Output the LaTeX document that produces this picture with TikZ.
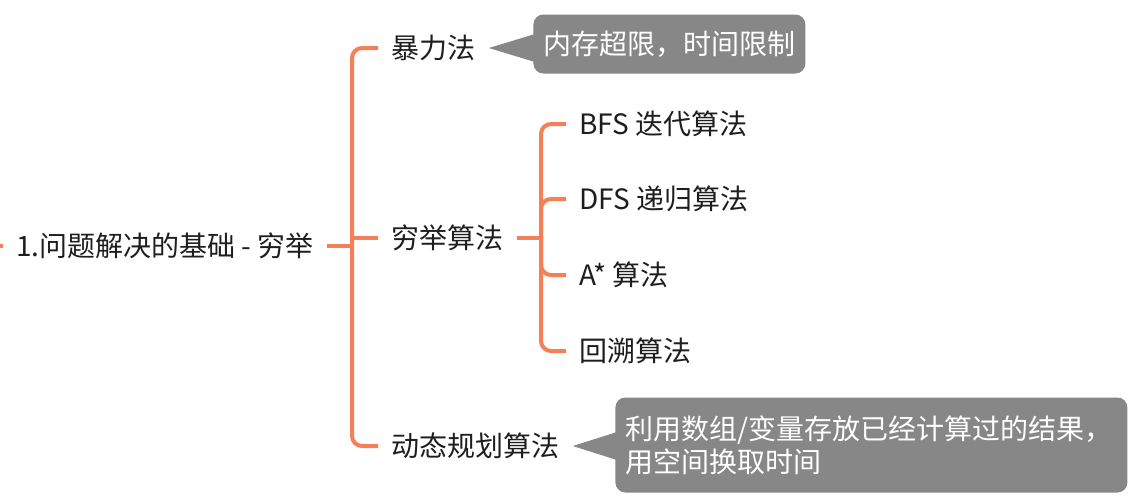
\documentclass[tikz,border=0pt]{standalone}
\usepackage{fontspec}
\setmainfont{Noto Sans CJK SC}
\usetikzlibrary{calc}
\definecolor{branchc}{RGB}{245,128,88}
\definecolor{notec}{RGB}{135,135,135}
\definecolor{textc}{RGB}{30,30,30}

\begin{document}
\begin{tikzpicture}
  [x=0.5pt,y=-0.5pt,
   every node/.style={font=\fontsize{14}{16.5}\selectfont,text=textc,inner xsep=6.5pt,inner ysep=2pt},
   branch/.style={draw=branchc,line width=2pt},
   note/.style={fill=notec,text=white,rounded corners=5pt,inner xsep=5pt}]
  \clip (0,0) rectangle (1138,500);
  \node[anchor=east] (root) at (327,246) {1.问题解决的基础 - 穷举};
  \node[anchor=west] (bl) at (378,48)  {暴力法};
  \node[anchor=west] (qj) at (378,238) {穷举算法};
  \node[anchor=west] (dp) at (378,446) {动态规划算法};
  \node[anchor=west] (bfs) at (566,124) {BFS 迭代算法};
  \node[anchor=west] (dfs) at (566,199) {DFS 递归算法};
  \node[anchor=west] (as) at (566,275)  {A* 算法};
  \node[anchor=west] (hs) at (566,351)  {回溯算法};
  \node[note,anchor=west,minimum height=29.5pt] (nbl) at (533,44) {内存超限，时间限制};
  \node[note,anchor=west,text width=246pt,align=left,minimum height=47.5pt] (ndp) at (615,445)
    {利用数组/变量存放已经计算过的结果，\\用空间换取时间};
  \coordinate (in) at (-10,246);
  \coordinate (h1) at (352,246);
  \coordinate (h2) at (541,238);
  \fill[notec] (bl.east) -- ($(nbl.west|-bl.east)+(2,-14)$) -- ($(nbl.west|-bl.east)+(2,14)$) -- cycle;
  \fill[notec] (dp.east) -- ($(ndp.west|-dp.east)+(2,-14)$) -- ($(ndp.west|-dp.east)+(2,14)$) -- cycle;
  \draw[branch] (in) -- (root.west);
  \draw[branch] (root.east) -- (h1);
  \draw[branch] (qj.east) -- (h2);
  \draw[branch] (h1) |- (qj.west);
  \foreach \from/\to in {h1/bl,h1/dp,h2/bfs,h2/dfs,h2/as,h2/hs}
    \draw[branch,rounded corners=5pt] (\from) |- (\to.west);
\end{tikzpicture}
\end{document}
